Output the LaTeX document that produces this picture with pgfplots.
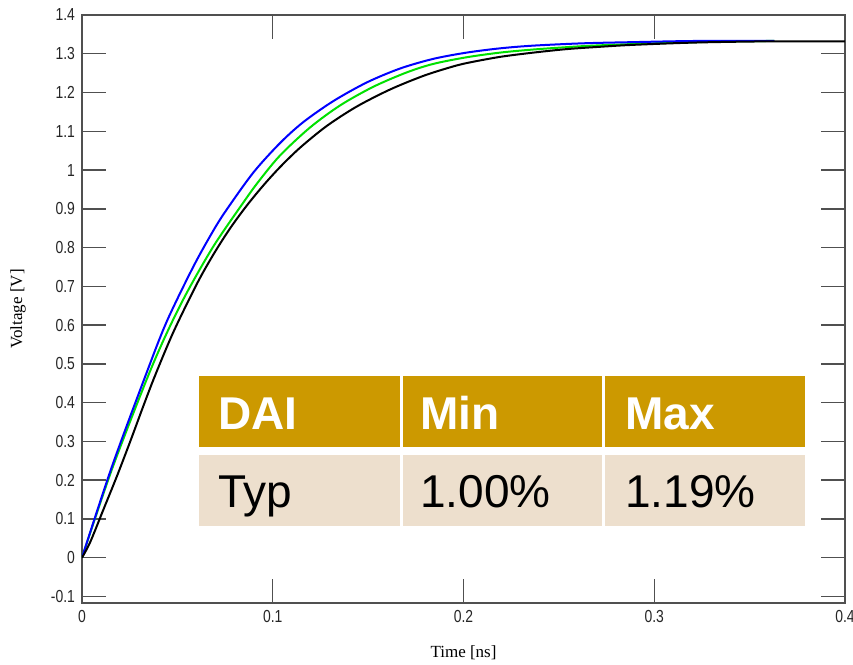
\documentclass[border=0pt]{standalone}
\usepackage{fontspec}
\setmainfont{Liberation Serif}
\newfontfamily\tickfont[FakeStretch=0.8]{Liberation Sans}
\newfontfamily\tabfont{Liberation Sans}
\usepackage{pgfplots}
\usepackage{pgfplotstable}
\pgfplotsset{compat=1.18}
\definecolor{hdr}{RGB}{204,153,0}
\definecolor{bdy}{RGB}{237,223,205}
\definecolor{axgray}{RGB}{80,80,80}
\definecolor{cblue}{RGB}{0,0,255}
\definecolor{cgreen}{RGB}{0,225,0}

\pgfplotstableread{
t V
0 0
0.0157 0.235
0.0341 0.480
0.0445 0.610
0.0585 0.752
0.0690 0.845
0.0760 0.899
0.0899 0.994
0.1039 1.070
0.1161 1.124
0.1318 1.178
0.1493 1.226
0.1668 1.262
0.1843 1.287
0.2017 1.303
0.2192 1.314
0.2367 1.321
0.2629 1.327
0.2890 1.330
0.3220 1.333
0.3630 1.333
}\blue

\pgfplotstableread{
t V
0 0
0.0157 0.228
0.0341 0.462
0.0445 0.580
0.0550 0.684
0.0690 0.804
0.0847 0.917
0.0925 0.970
0.1039 1.038
0.1196 1.110
0.1354 1.167
0.1528 1.215
0.1703 1.252
0.1843 1.274
0.2017 1.291
0.2192 1.303
0.2367 1.311
0.2541 1.317
0.2680 1.321
0.3000 1.327
0.3400 1.332
0.3630 1.333
}\green

\pgfplotstableread{
t V
0 0
0.0043 0.040
0.0113 0.125
0.0183 0.210
0.0253 0.300
0.0323 0.393
0.0384 0.471
0.0480 0.583
0.0603 0.707
0.0690 0.783
0.0777 0.850
0.0865 0.909
0.0952 0.961
0.1039 1.008
0.1144 1.058
0.1284 1.114
0.1441 1.164
0.1616 1.208
0.1790 1.243
0.1930 1.265
0.2017 1.276
0.2192 1.292
0.2367 1.303
0.2541 1.312
0.2716 1.318
0.2890 1.323
0.3220 1.329
0.3600 1.332
0.4000 1.332
}\black

\begin{document}
\begin{tikzpicture}
\useasboundingbox (-41pt,-31pt) rectangle (385.5pt,301.5pt);
\fill[white] (-41pt,-31pt) rectangle (385.5pt,301.5pt);
\begin{axis}[
  at={(0pt,0pt)}, anchor=south west,
  scale only axis, width=381.5pt, height=294pt,
  xmin=0, xmax=0.4, ymin=-0.117, ymax=1.4,
  xtick={0,0.1,0.2,0.3,0.4},
  ytick={-0.1,0,0.1,0.2,0.3,0.4,0.5,0.6,0.7,0.8,0.9,1,1.1,1.2,1.3,1.4},
  xtick pos=both, ytick pos=both,
  xticklabel pos=bottom, yticklabel pos=left,
  tick align=inside, major tick length=12pt,
  axis line style={axgray, line width=1pt},
  tick style={axgray, line width=0.7pt},
  /pgf/number format/assume math mode=true,
  tick label style={font=\tickfont\fontsize{8.7}{10}\selectfont, text=black!85},
  xlabel={Time [ns]}, ylabel={Voltage [V]},
  label style={font=\fontsize{8.5}{10}\selectfont},
  xlabel style={at={(axis description cs:0.5,-0.085)}, anchor=center},
  ylabel style={at={(axis description cs:-0.0839,0.5)}, anchor=center},
  clip=true,
]
\addplot[cgreen, line width=1pt, smooth, tension=0.5] table[x=t,y=V] {\green};
\addplot[cblue, line width=1pt, smooth, tension=0.5] table[x=t,y=V] {\blue};
\addplot[black, line width=1pt, smooth, tension=0.5] table[x=t,y=V] {\black};
\end{axis}
% table overlay
\fill[hdr] (58.5pt,78pt) rectangle (159pt,113.5pt);
\fill[hdr] (160.5pt,78pt) rectangle (260pt,113.5pt);
\fill[hdr] (261.5pt,78pt) rectangle (361.5pt,113.5pt);
\fill[bdy] (58.5pt,38.5pt) rectangle (159pt,74pt);
\fill[bdy] (160.5pt,38.5pt) rectangle (260pt,74pt);
\fill[bdy] (261.5pt,38.5pt) rectangle (361.5pt,74pt);
\begin{scope}[every node/.style={anchor=base west, inner sep=0pt, font=\tabfont\fontsize{23}{26}\selectfont}]
\node[text=white, font=\tabfont\bfseries\fontsize{23}{26}\selectfont] at (68pt,86.5pt) {DAI};
\node[text=white, font=\tabfont\bfseries\fontsize{23}{26}\selectfont] at (169pt,86.5pt) {Min};
\node[text=white, font=\tabfont\bfseries\fontsize{23}{26}\selectfont] at (271.5pt,86.5pt) {Max};
\node at (68pt,48pt) {Typ};
\node at (169pt,48pt) {1.00\%};
\node at (271.5pt,48pt) {1.19\%};
\end{scope}
\end{tikzpicture}
\end{document}
